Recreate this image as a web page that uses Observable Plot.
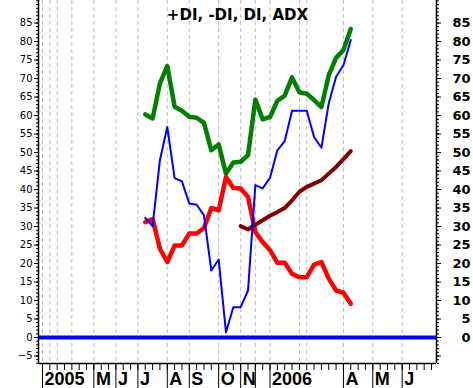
<!DOCTYPE html>
<html><head><meta charset="utf-8">
<script src="https://cdn.jsdelivr.net/npm/d3@7"></script>
<script src="https://cdn.jsdelivr.net/npm/@observablehq/plot@0.6"></script>
<style>html,body{margin:0;padding:0;background:#fff} svg{display:block}</style>
</head><body><div id="chart"></div>
<script>
// week index along the x axis (0 = first month boundary shown)
const weeks = [14,15,16,17,18,19,20,21,22,23,24,25,26,27,28,29,30,31,32,33,34,35,36,37,38,39,40,41,42];
const greenDI = [60.3,59.2,68.7,73.4,62.4,61.3,59.7,59.4,58.0,50.6,52.2,44.3,47.3,47.5,49.3,64.3,59.0,59.6,64.0,65.4,70.3,66.3,65.9,64.2,62.3,70.9,75.6,77.7,83.4];
const blueDI = [32.3,30.1,48.0,56.9,43.1,42.2,36.2,35.9,33.0,18.1,21.1,1.4,8.2,8.2,12.7,41.2,40.3,43.2,50.6,53.1,61.3,61.3,61.3,54.2,51.3,63.3,70.5,73.6,80.4];
const redDI = [31.2,32.0,24.0,20.4,24.9,24.9,28.1,28.1,29.6,35.0,34.4,43.4,40.4,40.3,38.0,28.5,25.8,23.6,20.2,20.2,17.2,16.3,16.3,19.7,20.4,15.9,12.7,12.1,9.1];
const adxWeeks = [27,28,29,30,31,32,33,34,35,36,37,38,39,40,41,42];
const adx = [30.1,29.2,30.5,31.7,32.9,33.9,35.0,37.1,39.4,40.7,41.6,42.5,44.3,46.1,48.2,50.4];
const gridWeeks = [0,1,2,4,7,10,13,17,20,24,27,29,31,35,36,41,45,49];
const monthStarts = [0,7,10,13,17,20,24,27,29,31,41,45,49];
const monthLabels = ["2005","M","J","J","A","S","O","N","","2006","A","M","J"];
const weekTicks = d3.range(0, 54);
const yMajor = d3.range(-5, 90, 5);
const yRightLabels = d3.range(0, 90, 5);
const yMinor = d3.range(-7, 92);
const titleText = "+DI, -DI, DI, ADX";

const xDomain = [-0.545, 53.68];
const yDomain = [-7.03, 91.1];

const series = (ys, xs) => xs.map((w, i) => ({w, v: ys[i]}));
const months = monthStarts.map((w, i) => ({w, label: monthLabels[i]}));

const chart = Plot.plot({
  width: 473,
  height: 388,
  marginLeft: 38,
  marginRight: 37,
  marginTop: 0,
  marginBottom: 25,
  style: {background: "white", color: "black", fontFamily: "DejaVu Sans", fontSize: "10px", overflow: "visible"},
  x: {type: "linear", domain: xDomain},
  y: {domain: yDomain},
  marks: [
    Plot.ruleX(gridWeeks, {stroke: "#bdbdbd", strokeDasharray: "4,3", strokeWidth: 1}),
    Plot.ruleY([0], {stroke: "#0000ff", strokeWidth: 4}),
    Plot.line(series(greenDI, weeks), {x: "w", y: "v", stroke: "#008000", strokeWidth: 4.5, strokeLinejoin: "round"}),
    Plot.line(series(redDI, weeks), {x: "w", y: "v", stroke: "#ff0000", strokeWidth: 4.5, strokeLinejoin: "round"}),
    Plot.line(series(adx, adxWeeks), {x: "w", y: "v", stroke: "#800000", strokeWidth: 4, strokeLinejoin: "round"}),
    Plot.line(series(blueDI, weeks), {x: "w", y: "v", stroke: "#0000ff", strokeWidth: 2, strokeLinejoin: "round"}),
    // frame lines
    Plot.ruleX([xDomain[0], xDomain[1]], {stroke: "black", strokeWidth: 1.5}),
    Plot.ruleY([yDomain[0]], {stroke: "black", strokeWidth: 1.5}),
    // left axis
    Plot.axisY({anchor: "left", ticks: yMinor, tickSize: 2, fill: "none", label: null}),
    Plot.axisY({anchor: "left", ticks: yMajor, tickSize: 4, tickPadding: 2, fontSize: 10, fontFamily: "DejaVu Sans", label: null}),
    // right axis
    Plot.axisY({anchor: "right", ticks: yMinor, tickSize: 2, fill: "none", label: null}),
    Plot.axisY({anchor: "right", ticks: yMajor, tickSize: 4, fill: "none", label: null}),
    Plot.axisY({anchor: "right", ticks: yRightLabels, tickSize: 0, tickPadding: 34, textAnchor: "end", fontSize: 13, fontWeight: "bold", fontFamily: "DejaVu Sans", label: null}),
    // bottom axis
    Plot.axisX({anchor: "bottom", ticks: weekTicks, tickSize: 7, fill: "none", label: null}),
    Plot.axisX({anchor: "bottom", ticks: monthStarts, tickSize: 25, fill: "none", label: null}),
    Plot.text(months, {x: "w", text: "label", frameAnchor: "bottom", dy: 21, dx: 2, textAnchor: "start", lineAnchor: "bottom", fontSize: 18, fontWeight: "bold", fontFamily: "Liberation Sans", fill: "black"}),
    // title
    Plot.text([titleText], {frameAnchor: "top", dy: 9, lineAnchor: "top", fontSize: 15, fontWeight: "bold", fontFamily: "DejaVu Sans", fill: "black"})
  ]
});
document.getElementById("chart").appendChild(chart);
</script>
</body></html>
